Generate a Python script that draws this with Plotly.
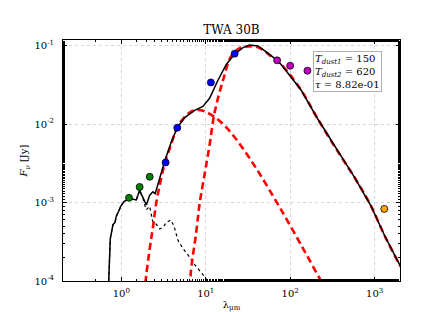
import plotly.graph_objects as go

# ---- photometry ----
phot_green_wl = [1.235, 1.65, 2.17]
phot_green_f = [1.15e-3, 1.58e-3, 2.13e-3]
phot_blue_wl = [3.35, 4.6, 11.5, 22.0]
phot_blue_f = [3.24e-3, 9.0e-3, 0.034, 0.079]
phot_mag_wl = [70.0, 100.0, 160.0]
phot_mag_f = [0.065, 0.0555, 0.048]
phot_orange_wl = [1300.0]
phot_orange_f = [8.3e-4]

# ---- stellar part of spectrum (shared by total and photosphere) ----
star_wl = [0.705, 0.710, 0.741, 0.797, 0.842, 0.873, 0.931, 0.984, 1.076, 1.20, 1.375, 1.505, 1.65, 1.81]
star_f = [5e-5, 1.0e-4, 3.45e-4, 5.25e-4, 5.56e-4, 6.72e-4, 7.74e-4, 8.93e-4, 1.03e-3, 1.10e-3, 1.10e-3, 1.08e-3, 1.43e-3, 1.13e-3]

# ---- total model beyond 1.8 um ----
total_wl = [1.98, 2.17, 2.37, 2.52, 2.72, 2.97, 3.26, 3.91, 4.60, 5.63, 7.39, 9.26, 11.1, 13.9, 17.5,
            22.0, 27.6, 33.1, 41.5, 54.5, 68.3, 78.2, 135, 213, 367, 578, 910, 1309, 1972, 2200]
total_f = [9.33e-4, 1.24e-3, 1.37e-3, 1.30e-3, 1.73e-3, 2.30e-3, 3.36e-3, 5.93e-3, 9.0e-3, 0.0121, 0.0150,
           0.0168, 0.0213, 0.0360, 0.0575, 0.0781, 0.0944, 0.1017, 0.0990, 0.0803, 0.0664, 0.0575, 0.0270,
           0.01153, 4.46e-3, 2.09e-3, 8.93e-4, 3.80e-4, 1.62e-4, 1.35e-4]

# ---- photosphere beyond 1.8 um (dotted) ----
photo_wl = [1.89, 1.98, 2.17, 2.37, 2.60, 2.85, 3.11, 3.41, 3.84, 4.20, 4.69, 5.37, 6.15, 7.39, 8.85, 10.1, 10.9]
photo_f = [9.33e-4, 8.1e-4, 8.93e-4, 5.55e-4, 5.28e-4, 4.59e-4, 4.82e-4, 5.55e-4, 6.0e-4, 5.06e-4, 3.30e-4,
           2.60e-4, 2.15e-4, 1.62e-4, 1.28e-4, 1.06e-4, 8.5e-5]

# ---- hot dust (T=620) ----
hot_wl = [1.85, 1.94, 2.17, 2.37, 2.57, 2.87, 3.29, 3.87, 4.56, 5.37, 6.32, 7.44, 8.78, 10.6, 15.3, 22.0,
          31.6, 41.5, 54.5, 78.2, 123, 162, 223, 250]
hot_f = [5e-5, 1.0e-4, 2.58e-4, 4.82e-4, 9.27e-4, 1.73e-3, 3.24e-3, 5.40e-3, 9.0e-3, 0.0116, 0.0138, 0.0150,
         0.0150, 0.0139, 0.0105, 6.8e-3, 3.94e-3, 2.52e-3, 1.56e-3, 8.07e-4, 3.43e-4, 2.01e-4, 1.08e-4, 8.6e-5]

# ---- cold dust (T=150) ----
cold_wl = [6.45, 6.56, 6.74, 7.72, 8.47, 9.70, 11.1, 12.7, 16.0, 20.0, 25.2, 31.6, 41.5, 59.6, 78.2, 135,
           213, 367, 578, 910, 1309, 1972, 2200]
cold_f = [6e-5, 1.0e-4, 1.47e-4, 4.18e-4, 9.8e-4, 2.30e-3, 5.40e-3, 0.0139, 0.0360, 0.0731, 0.0926, 0.0975,
          0.0955, 0.0731, 0.0575, 0.0270, 0.01153, 4.46e-3, 2.09e-3, 8.93e-4, 3.80e-4, 1.62e-4, 1.35e-4]

x_tickvals = [1, 10, 100, 1000]
x_ticktext = ["10<sup>0</sup>", "10<sup>1</sup>", "10<sup>2</sup>", "10<sup>3</sup>"]
y_tickvals = [1e-4, 1e-3, 1e-2, 1e-1]
y_ticktext = ["10<sup>-4</sup>", "10<sup>-3</sup>", "10<sup>-2</sup>", "10<sup>-1</sup>"]

FONT = "DejaVu Serif"

fig = go.Figure()
# photosphere dotted
fig.add_trace(go.Scatter(x=star_wl + photo_wl, y=star_f + photo_f, mode="lines",
                         line=dict(color="black", width=1.2, dash="dot"), showlegend=False))
# dust components
fig.add_trace(go.Scatter(x=hot_wl, y=hot_f, mode="lines", line_shape="spline",
                         line=dict(color="#ff0000", width=2.6, dash="7px,4px"), showlegend=False))
fig.add_trace(go.Scatter(x=cold_wl, y=cold_f, mode="lines", line_shape="spline",
                         line=dict(color="#ff0000", width=2.6, dash="7px,4px"), showlegend=False))
# total
fig.add_trace(go.Scatter(x=star_wl + total_wl, y=star_f + total_f, mode="lines",
                         line=dict(color="black", width=1.5), showlegend=False))

mk = dict(size=7, line=dict(color="black", width=0.8))
for wl, f, c in [(phot_green_wl, phot_green_f, "#008000"), (phot_blue_wl, phot_blue_f, "#0000ff"),
                 (phot_mag_wl, phot_mag_f, "#bf00bf"), (phot_orange_wl, phot_orange_f, "#ffa500")]:
    fig.add_trace(go.Scatter(x=wl, y=f, mode="markers", marker=dict(color=c, **mk), showlegend=False))

axis_common = dict(type="log", showline=True, linecolor="black", linewidth=1, mirror="allticks",
                   ticks="inside", ticklen=4, tickcolor="black",
                   showgrid=True, gridcolor="#d6d6d6", griddash="dot", gridwidth=1,
                   zeroline=False, tickfont=dict(family=FONT, size=10, color="black"),
                   minor=dict(ticks="inside", ticklen=2, tickcolor="black", showgrid=False))

fig.update_xaxes(range=[-0.69, 3.30], tickvals=x_tickvals, ticktext=x_ticktext, ticklabelstandoff=3,
                 title=dict(text="λ<sub>μm</sub>", font=dict(family=FONT, size=10, color="black"), standoff=2),
                 **axis_common)
fig.update_yaxes(range=[-4, -0.928], tickvals=y_tickvals, ticktext=y_ticktext, ticklabelstandoff=6,
                 title=dict(text="<i>F</i><sub><i>ν</i></sub> [Jy]", font=dict(family=FONT, size=10, color="black"), standoff=4),
                 **axis_common)

fig.add_annotation(xref="paper", yref="paper", x=0.742, y=0.955, xanchor="left", yanchor="top",
                   text="<i>T</i><sub><i>dust1</i></sub> = 150<br><i>T</i><sub><i>dust2</i></sub> = 620<br><i>τ</i> = 8.82e-01",
                   showarrow=False, align="left", font=dict(family=FONT, size=10, color="black"),
                   bordercolor="#b0b0b0", borderwidth=1, borderpad=1, bgcolor="white")

fig.update_layout(width=436, height=312, margin=dict(l=55, r=44, t=31.5, b=32),
                  paper_bgcolor="white", plot_bgcolor="white",
                  title=dict(text="TWA 30B", x=0.5, xref="paper", y=1 - 22 / 312, yref="container",
                             xanchor="center", yanchor="middle",
                             font=dict(family=FONT, size=12, color="black")),
                  font=dict(family=FONT))

fig.write_html("out.html")
